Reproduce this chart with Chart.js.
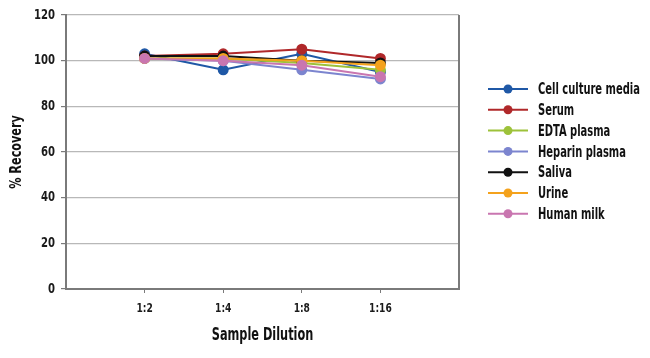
<!DOCTYPE html>
<html><head><meta charset="utf-8">
<script src="https://cdn.jsdelivr.net/npm/chart.js@4/dist/chart.umd.min.js"></script>
<style>html,body{margin:0;padding:0;background:#fff}#w{width:650px;height:358px}</style>
</head><body><div id="w"><canvas id="c"></canvas></div>
<script>
const dilutions = ['1:2', '1:4', '1:8', '1:16'];
const seriesNames = ['Cell culture media', 'Serum', 'EDTA plasma', 'Heparin plasma', 'Saliva', 'Urine', 'Human milk'];
const cellCulture = [103, 96, 103, 95];
const serum = [102, 103, 105, 101];
const edtaPlasma = [101, 101, 99, 96];
const heparinPlasma = [101, 100, 96, 92];
const saliva = [102, 102, 100, 99];
const urine = [101, 101, 100, 98];
const humanMilk = [101, 100, 98, 93];
const yTicks = [0, 20, 40, 60, 80, 100, 120];
const xTitle = 'Sample Dilution';
const yTitle = '% Recovery';
const colors = ['#1f58a6', '#b0282a', '#9dc23a', '#7c85cf', '#111111', '#f4a21c', '#c976b0'];
const values = [cellCulture, serum, edtaPlasma, heparinPlasma, saliva, urine, humanMilk];

const FONT = "'DejaVu Sans Condensed', 'Liberation Sans Narrow', sans-serif";

const datasets = seriesNames.map((n, i) => ({
  label: n,
  data: values[i].map((v, j) => ({x: j + 1, y: v})),
  borderColor: colors[i],
  backgroundColor: colors[i],
  pointBackgroundColor: colors[i],
  pointBorderColor: colors[i],
  borderWidth: 2,
  pointRadius: 4.5,
  order: seriesNames.length - i,
  tension: 0
}));

function narrowText(ctx, text, x, y, sx, align) {
  ctx.save();
  ctx.translate(x, y);
  ctx.scale(sx, 1);
  ctx.textAlign = align;
  ctx.fillText(text, 0, 0);
  ctx.restore();
}

const textPlugin = {
  id: 'textPlugin',
  afterDraw(chart) {
    const ctx = chart.ctx;
    const ca = chart.chartArea;
    const xs = chart.scales.x, ys = chart.scales.y;
    ctx.save();
    ctx.strokeStyle = '#7a7a7a';
    ctx.lineWidth = 2;
    ctx.beginPath();
    ctx.moveTo(ca.right, ca.top); ctx.lineTo(ca.right, ca.bottom);
    ctx.stroke();
    ctx.textBaseline = 'middle';
    // tick labels
    ctx.fillStyle = '#1a1a1a';
    ctx.font = "bold 14px " + FONT;
    yTicks.forEach(v => narrowText(ctx, String(v), 55, ys.getPixelForValue(v), 0.8, 'right'));
    ctx.font = "bold 13px " + FONT;
    dilutions.forEach((d, j) => narrowText(ctx, d, xs.getPixelForValue(j + 1), 309, 0.78, 'center'));
    // axis titles
    ctx.fillStyle = '#111';
    ctx.font = "bold 17px " + FONT;
    narrowText(ctx, xTitle, (ca.left + ca.right) / 2, 336, 0.74, 'center');
    ctx.font = "bold 16px " + FONT;
    ctx.save();
    ctx.translate(17, (ca.top + ca.bottom) / 2);
    ctx.rotate(-Math.PI / 2);
    narrowText(ctx, yTitle, 0, 0, 0.78, 'center');
    ctx.restore();
    // legend
    ctx.font = "bold 16px " + FONT;
    seriesNames.forEach((n, i) => {
      const y = 89 + i * 20.8;
      ctx.strokeStyle = colors[i];
      ctx.lineWidth = 2;
      ctx.beginPath(); ctx.moveTo(488, y); ctx.lineTo(528, y); ctx.stroke();
      ctx.fillStyle = colors[i];
      ctx.beginPath(); ctx.arc(508, y, 4.5, 0, Math.PI * 2); ctx.fill();
      ctx.fillStyle = '#111';
      narrowText(ctx, n, 538, y + 1, 0.69, 'left');
    });
    ctx.restore();
  }
};

new Chart(document.getElementById('c'), {
  type: 'line',
  data: {datasets},
  options: {
    responsive: true,
    maintainAspectRatio: false,
    animation: false,
    layout: {padding: {left: 0, right: 191, top: 15, bottom: 0}},
    plugins: {legend: {display: false}, tooltip: {enabled: false}},
    scales: {
      x: {
        type: 'linear', min: 0, max: 5,
        afterBuildTicks(scale) { scale.ticks = [0,1,2,3,4,5].map(v => ({value: v})); },
        afterFit(scale) { scale.height = 69; },
        ticks: {display: false},
        grid: {
          drawOnChartArea: false, drawTicks: true, tickLength: 4,
          color: c => (c.tick && c.tick.value >= 1 && c.tick.value <= 4) ? '#7a7a7a' : 'rgba(0,0,0,0)'
        },
        border: {color: '#7a7a7a', width: 2}
      },
      y: {
        min: 0, max: 120,
        afterBuildTicks(scale) { scale.ticks = yTicks.map(v => ({value: v})); },
        afterFit(scale) { scale.width = 66; },
        ticks: {display: false},
        grid: {color: '#b8b8b8', lineWidth: 1.2, tickLength: 5, tickColor: '#7a7a7a'},
        border: {color: '#7a7a7a', width: 2}
      }
    }
  },
  plugins: [textPlugin]
});
</script></body></html>
